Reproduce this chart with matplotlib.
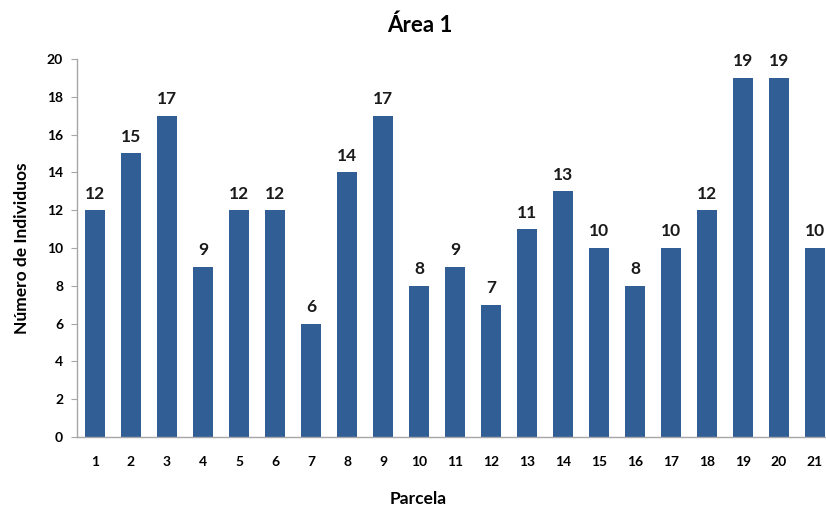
import matplotlib
matplotlib.use("Agg")
import matplotlib.pyplot as plt

parcelas = [str(i) for i in range(1, 22)]
individuos = [12, 15, 17, 9, 12, 12, 6, 14, 17, 8, 9, 7, 11, 13, 10, 8, 10, 12, 19, 19, 10]
y_ticks = [0, 2, 4, 6, 8, 10, 12, 14, 16, 18, 20]

plt.rcParams['font.family'] = ['Lato', 'DejaVu Sans']
plt.rcParams['font.weight'] = 'bold'

W, H = 826, 515
fig = plt.figure(figsize=(W / 100, H / 100), dpi=100)
ax = fig.add_axes([77 / W, 78 / H, (21 * 36) / W, 378 / H])

bar_color = '#305E95'
x = range(len(parcelas))
ax.bar(x, individuos, width=0.57, color=bar_color, zorder=2)

for xi, v in zip(x, individuos):
    ax.text(xi, v + 0.45, str(v), ha='center', va='bottom',
            fontsize=12.5, fontweight='bold', color='#1a1a1a')

ax.set_xlim(-0.5, len(parcelas) - 0.5)
ax.set_ylim(0, 20)
ax.set_yticks(y_ticks)
ax.set_xticks(list(x))
ax.set_xticklabels(parcelas)

for s in ['top', 'right']:
    ax.spines[s].set_visible(False)
for s in ['left', 'bottom']:
    ax.spines[s].set_color('#A6A6A6')
    ax.spines[s].set_linewidth(1.0)

ax.tick_params(axis='y', length=4, color='#A6A6A6', labelsize=10, pad=6)
ax.tick_params(axis='x', length=0, labelsize=10, pad=14)
for lbl in ax.get_xticklabels() + ax.get_yticklabels():
    lbl.set_fontweight('bold')

fig.text(420 / W, 1 - 25 / H, 'Área 1', ha='center', va='center',
         fontsize=16, fontweight='bold')
fig.text(22 / W, 1 - 248 / H, 'Número de Individuos', ha='center', va='center',
         rotation=90, fontsize=12.5, fontweight='bold')
fig.text(418 / W, 1 - 499 / H, 'Parcela', ha='center', va='center',
         fontsize=12.5, fontweight='bold')

fig.savefig('out.png', dpi=100)
